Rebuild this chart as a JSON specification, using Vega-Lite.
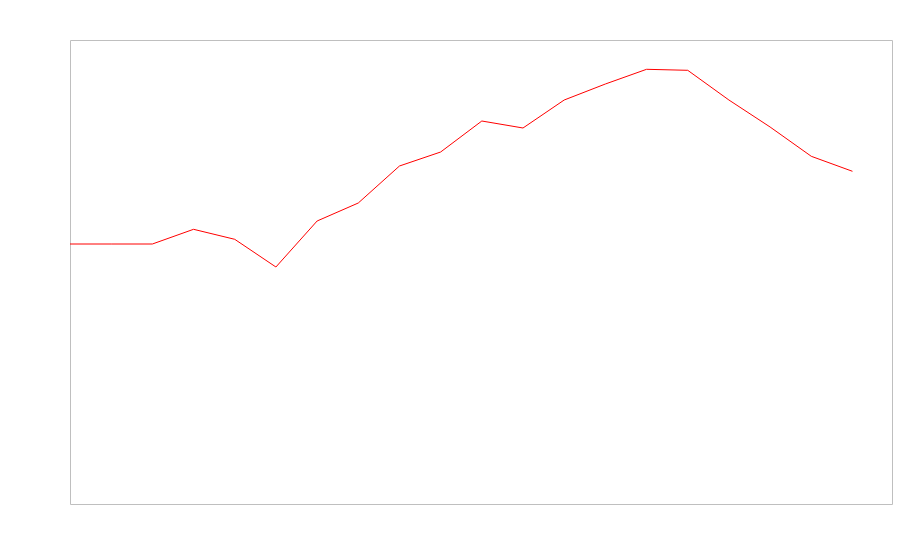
{
  "$schema": "https://vega.github.io/schema/vega-lite/v6.json",
  "width": 822,
  "height": 464,
  "autosize": {"type": "none"},
  "padding": {"left": 70, "top": 40, "right": 8, "bottom": 56},
  "background": "white",
  "config": {"view": {"stroke": "#bfbfbf", "strokeWidth": 1}},
  "data": {"values": [
    {"x": 0, "y": 260}, {"x": 1, "y": 260}, {"x": 2, "y": 260}, {"x": 3, "y": 274.7},
    {"x": 4, "y": 264.7}, {"x": 5, "y": 237}, {"x": 6, "y": 283}, {"x": 7, "y": 301},
    {"x": 8, "y": 338}, {"x": 9, "y": 352}, {"x": 10, "y": 383}, {"x": 11, "y": 376},
    {"x": 12, "y": 404}, {"x": 13, "y": 420}, {"x": 14, "y": 434.7}, {"x": 15, "y": 433.7},
    {"x": 16, "y": 404}, {"x": 17, "y": 377}, {"x": 18, "y": 347.7}, {"x": 19, "y": 332.7}
  ]},
  "mark": {"type": "line", "color": "red", "strokeWidth": 1},
  "encoding": {
    "x": {"field": "x", "type": "quantitative", "scale": {"domain": [0, 19.96], "nice": false, "zero": false}, "axis": null},
    "y": {"field": "y", "type": "quantitative", "scale": {"domain": [0, 464], "nice": false}, "axis": null}
  }
}
